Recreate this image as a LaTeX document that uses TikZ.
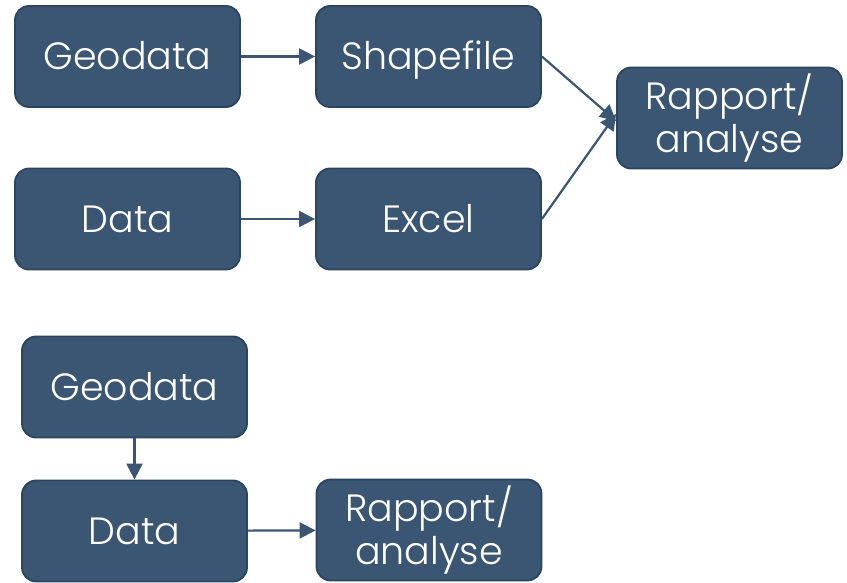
\documentclass[tikz,border=0pt]{standalone}
\usepackage{fontspec}
\setmainfont{Poppins}[UprightFont=* Light]
\usetikzlibrary{arrows.meta}
\definecolor{boxfill}{HTML}{3A5673}
\definecolor{boxline}{HTML}{2B4560}
\begin{document}
\begin{tikzpicture}[x=1pt,y=-1pt,
  box/.style={draw=boxline,line width=1.8pt,fill=boxfill,rounded corners=14pt,
    minimum width=225pt,minimum height=101pt,inner sep=0pt,text=white,
    font=\fontsize{38}{43}\selectfont,align=center},
  oneline/.style={text height=26.5pt,text depth=0pt},
  conn/.style={draw=boxfill,line width=2.2pt,-{Triangle[length=16pt,width=16pt]}}]
\useasboundingbox (0,0) rectangle (847,583);
\node[box,oneline] (geo1) at (127.5,56.5) {Geodata};
\node[box,oneline] (shp) at (428.5,56.5) {Shapefile};
\node[box] (rap1) at (729.5,118) {Rapport/\\analyse};
\node[box,oneline] (dat1) at (127.5,219) {Data};
\node[box,oneline] (exc) at (428.5,219) {Excel};
\node[box,oneline] (geo2) at (134.5,387) {Geodata};
\node[box,oneline] (dat2) at (134.5,531) {Data};
\node[box] (rap2) at (429,530) {Rapport/\\analyse};
\draw[conn] (geo1) -- (shp);
\draw[conn] (dat1) -- (exc);
\draw[conn] (shp.east) -- ([yshift=-3pt]rap1.west);
\draw[conn] (exc.east) -- ([yshift=4pt]rap1.west);
\draw[conn] (geo2) -- (dat2);
\draw[conn] (dat2) -- (rap2);
\end{tikzpicture}
\end{document}
